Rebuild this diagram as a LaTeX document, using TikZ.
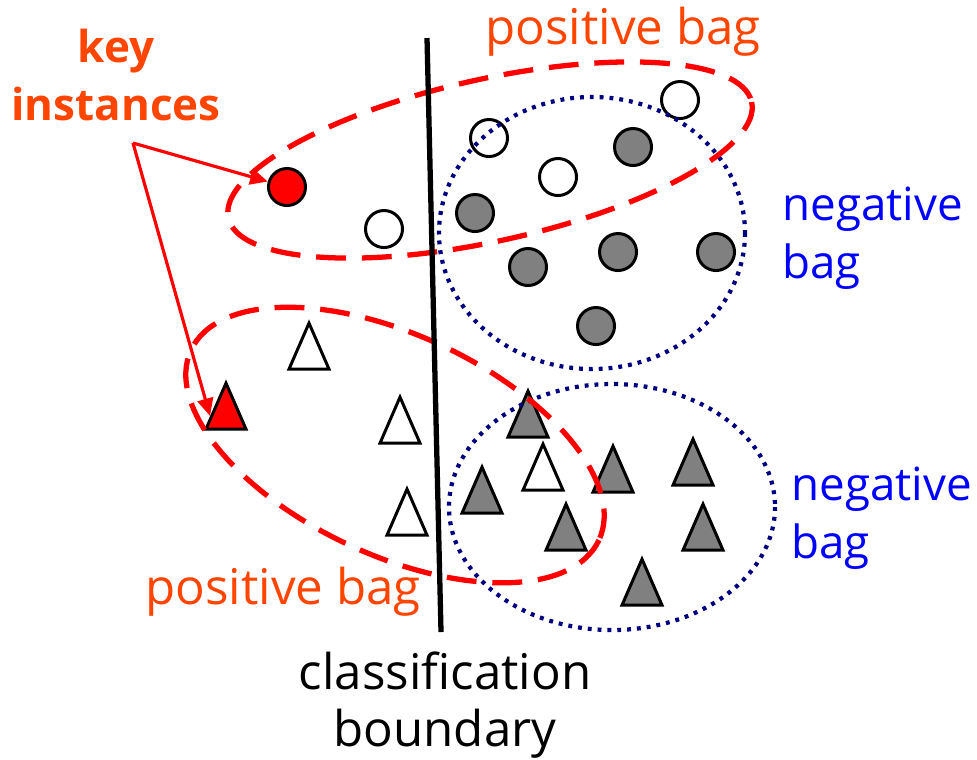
\documentclass[tikz,border=0pt]{standalone}
\usepackage{fontspec}
\setmainfont{Open Sans}
\usetikzlibrary{shapes.geometric,arrows.meta}
\definecolor{keyred}{RGB}{255,69,0}
\definecolor{bagnavy}{RGB}{0,0,128}
\definecolor{neggray}{RGB}{128,128,128}
\begin{document}
\begin{tikzpicture}[x=.01cm,y=-.01cm,
                    line/.style={line width=1.5pt},
                    posbag/.style={draw=red,line width=1.5pt,dash pattern=on 8.5pt off 4.5pt},
                    negbag/.style={draw=bagnavy,line width=1.2pt,dash pattern=on 1.1pt off 1.7pt},
                    inst/.style={circle,draw,line width=.85pt,inner sep=0pt,minimum size=.37cm},
                    tri/.style={isosceles triangle,isosceles triangle stretches,shape border rotate=90,
                                draw,line width=.85pt,inner sep=0pt,minimum width=.4cm,minimum height=.46cm},
                    pointer/.style={draw=red,line width=.9pt,-{Triangle[length=5pt,width=4.5pt]}},
                    every node/.style={font=\fontsize{14}{16}\selectfont}]
 \path[use as bounding box] (0,0) rectangle (977,759);
 % circles
 \node[inst,fill=red] (rc) at (287,187) {};
 \node[inst] (w1) at (384,229) {};
 \node[inst] (w2) at (489,138) {};
 \node[inst] (w3) at (558,177) {};
 \node[inst] (w4) at (680,100) {};
 \foreach \n/\x/\y in {g1/633/147,g2/475/213,g3/528/267,g4/618/252,g5/716/252,g6/596/326}
   \node[inst,fill=neggray] (\n) at (\x,\y) {};
 % triangles
 \node[tri,fill=red] (rt) at (226,416) {};
 \foreach \n/\x/\y in {u1/309/356,u2/400/430,u3/407/522,u4/543/477}
   \node[tri] (\n) at (\x,\y) {};
 \foreach \n/\x/\y in {h1/528/424,h2/482/500,h3/566/537,h4/613/479,h5/693/472,h6/703/537,h7/642/592}
   \node[tri,fill=neggray] (\n) at (\x,\y) {};
 % bags
 \draw[negbag] (592,233) ellipse [x radius=153,y radius=136];
 \draw[negbag] (612,507) ellipse [x radius=163,y radius=123];
 \draw[posbag] (490,160) ellipse [x radius=268,y radius=81,rotate=12.5];
 \draw[posbag] (395,445) ellipse [x radius=225,y radius=110,rotate=-25];
 % boundary
 \coordinate (btop) at (427,38); \coordinate (bbot) at (441,632);
 \draw[line] (btop) -- (bbot);
 % labels
 \node[keyred,font=\fontsize{12.5}{16.5}\selectfont\bfseries,align=center] (keylab) at (116,75) {key\\instances};
 \coordinate (fork) at (133,143);
 \draw[pointer] (fork) -- (rc);
 \draw[pointer] (fork) -- (rt.west);
 \node[keyred] (pos1) at (623,32) {positive bag};
 \node[keyred] (pos2) at (283,592) {positive bag};
 \node[blue,anchor=west,align=left,font=\fontsize{13}{16.5}\selectfont] (neg1) at (770,238) {negative\\bag};
 \node[blue,anchor=west,align=left,font=\fontsize{13}{16.5}\selectfont] (neg2) at (779,518) {negative\\bag};
 \node[align=center] (cls) at (445,705) {classification\\boundary};
\end{tikzpicture}
\end{document}
